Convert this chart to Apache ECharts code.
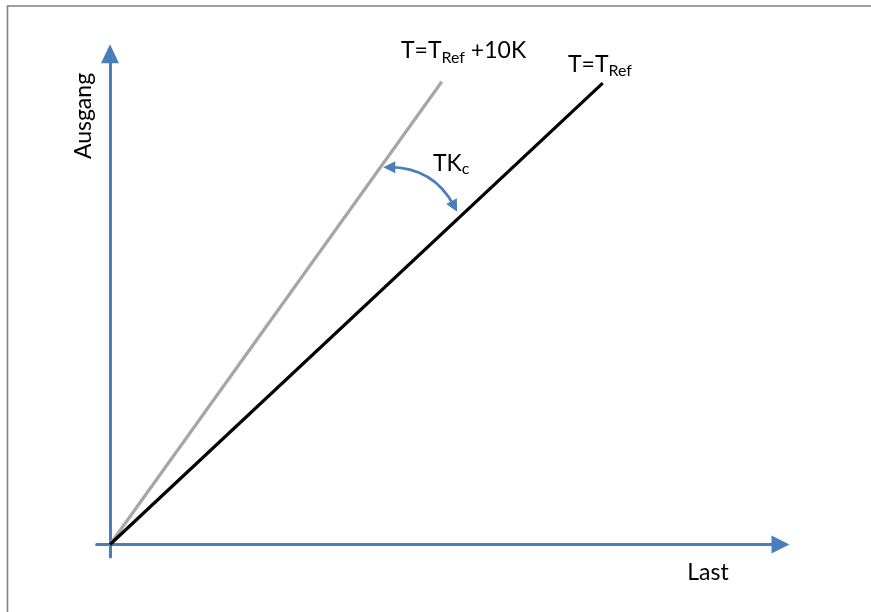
<!DOCTYPE html>
<html>
<head>
<meta charset="utf-8">
<script src="https://cdn.jsdelivr.net/npm/echarts@6/dist/echarts.min.js"></script>
<style>
  html, body { margin: 0; padding: 0; background: #fff; }
  #chart { width: 871px; height: 612px; }
</style>
</head>
<body>
<div id="chart"></div>
<script>
// Axis ranges (abstract units; the origin sits where both axes cross)
const xRange = [-1.9, 95.8];
const yRange = [-1.8, 70.1];

// Characteristic at reference temperature and at reference + 10 K
const refLine = [[0, 0], [70.4, 65.9]];
const hotLine = [[0, 0], [47.4, 66.1]];

// Curved double arrow marking the temperature coefficient between the two lines
const tkArc = [[39.9, 53.9], [49.2, 48.3]];

// Texts
const axisNames = { x: 'Last', y: 'Ausgang' };
const lineNames = { hot: ['T=T', 'Ref', ' +10K'], ref: ['T=T', 'Ref'], tk: ['TK', 'c'] };

const BLUE = '#4A7EBB';
const FONT = 'Lato, "Liberation Sans", sans-serif';

const chart = echarts.init(document.getElementById('chart'), null, { renderer: 'canvas' });

function richLabel(parts, subPad) {
  const tokens = parts.map((p, i) => (i % 2 === 0 ? '{m|' + p + '}' : '{s|' + p + '}')).join('');
  return {
    text: tokens,
    rich: {
      m: { fontSize: 23, fontFamily: FONT, lineHeight: 23, verticalAlign: 'top', fill: '#000' },
      s: { fontSize: 16, fontFamily: FONT, lineHeight: 16, padding: [subPad, 0, 0, 0], fill: '#000' }
    }
  };
}

const option = {
  animation: false,
  backgroundColor: '#fff',
  grid: { left: 96.7, right: 90.5, top: 53.8, bottom: 54.9, containLabel: false },
  xAxis: {
    type: 'value', min: xRange[0], max: xRange[1],
    axisLine: { onZero: true, symbol: ['none', 'triangle'], symbolSize: [18, 18],
      lineStyle: { color: BLUE, width: 3 } },
    axisTick: { show: false }, axisLabel: { show: false }, splitLine: { show: false }
  },
  yAxis: {
    type: 'value', min: yRange[0], max: yRange[1],
    axisLine: { onZero: true, symbol: ['none', 'triangle'], symbolSize: [18, 19],
      lineStyle: { color: BLUE, width: 3 } },
    axisTick: { show: false }, axisLabel: { show: false }, splitLine: { show: false }
  },
  series: [
    { type: 'line', data: hotLine, showSymbol: false, silent: true,
      lineStyle: { color: '#A6A6A6', width: 3.2 } },
    { type: 'line', data: refLine, showSymbol: false, silent: true,
      lineStyle: { color: '#000', width: 3.2 } },
    { type: 'lines', coordinateSystem: 'cartesian2d', silent: true,
      symbol: ['triangle', 'triangle'], symbolSize: [12, 12],
      lineStyle: { color: BLUE, width: 2.75, curveness: 0.3, opacity: 1 },
      data: [{ coords: tkArc }] }
  ],
  graphic: [
    { type: 'rect', shape: { x: 7.5, y: 6, width: 900, height: 700 }, silent: true, z: -1,
      style: { fill: 'none', stroke: '#808080', lineWidth: 1.6 } },
    { type: 'text', x: 84, y: 116, rotation: Math.PI / 2, silent: true,
      style: { text: axisNames.y, font: '23px ' + FONT, fill: '#000', align: 'center', verticalAlign: 'middle' } },
    { type: 'text', x: 708, y: 573, silent: true,
      style: { text: axisNames.x, font: '23px ' + FONT, fill: '#000', align: 'center', verticalAlign: 'middle' } },
    { type: 'text', x: 401, y: 39.2, silent: true,
      style: Object.assign({ verticalAlign: 'top', align: 'left' }, richLabel(lineNames.hot, 14)) },
    { type: 'text', x: 568, y: 53.2, silent: true,
      style: Object.assign({ verticalAlign: 'top', align: 'left' }, richLabel(lineNames.ref, 12)) },
    { type: 'text', x: 433, y: 152.2, silent: true,
      style: Object.assign({ verticalAlign: 'top', align: 'left' }, richLabel(lineNames.tk, 11)) }
  ]
};

chart.setOption(option);
</script>
</body>
</html>
